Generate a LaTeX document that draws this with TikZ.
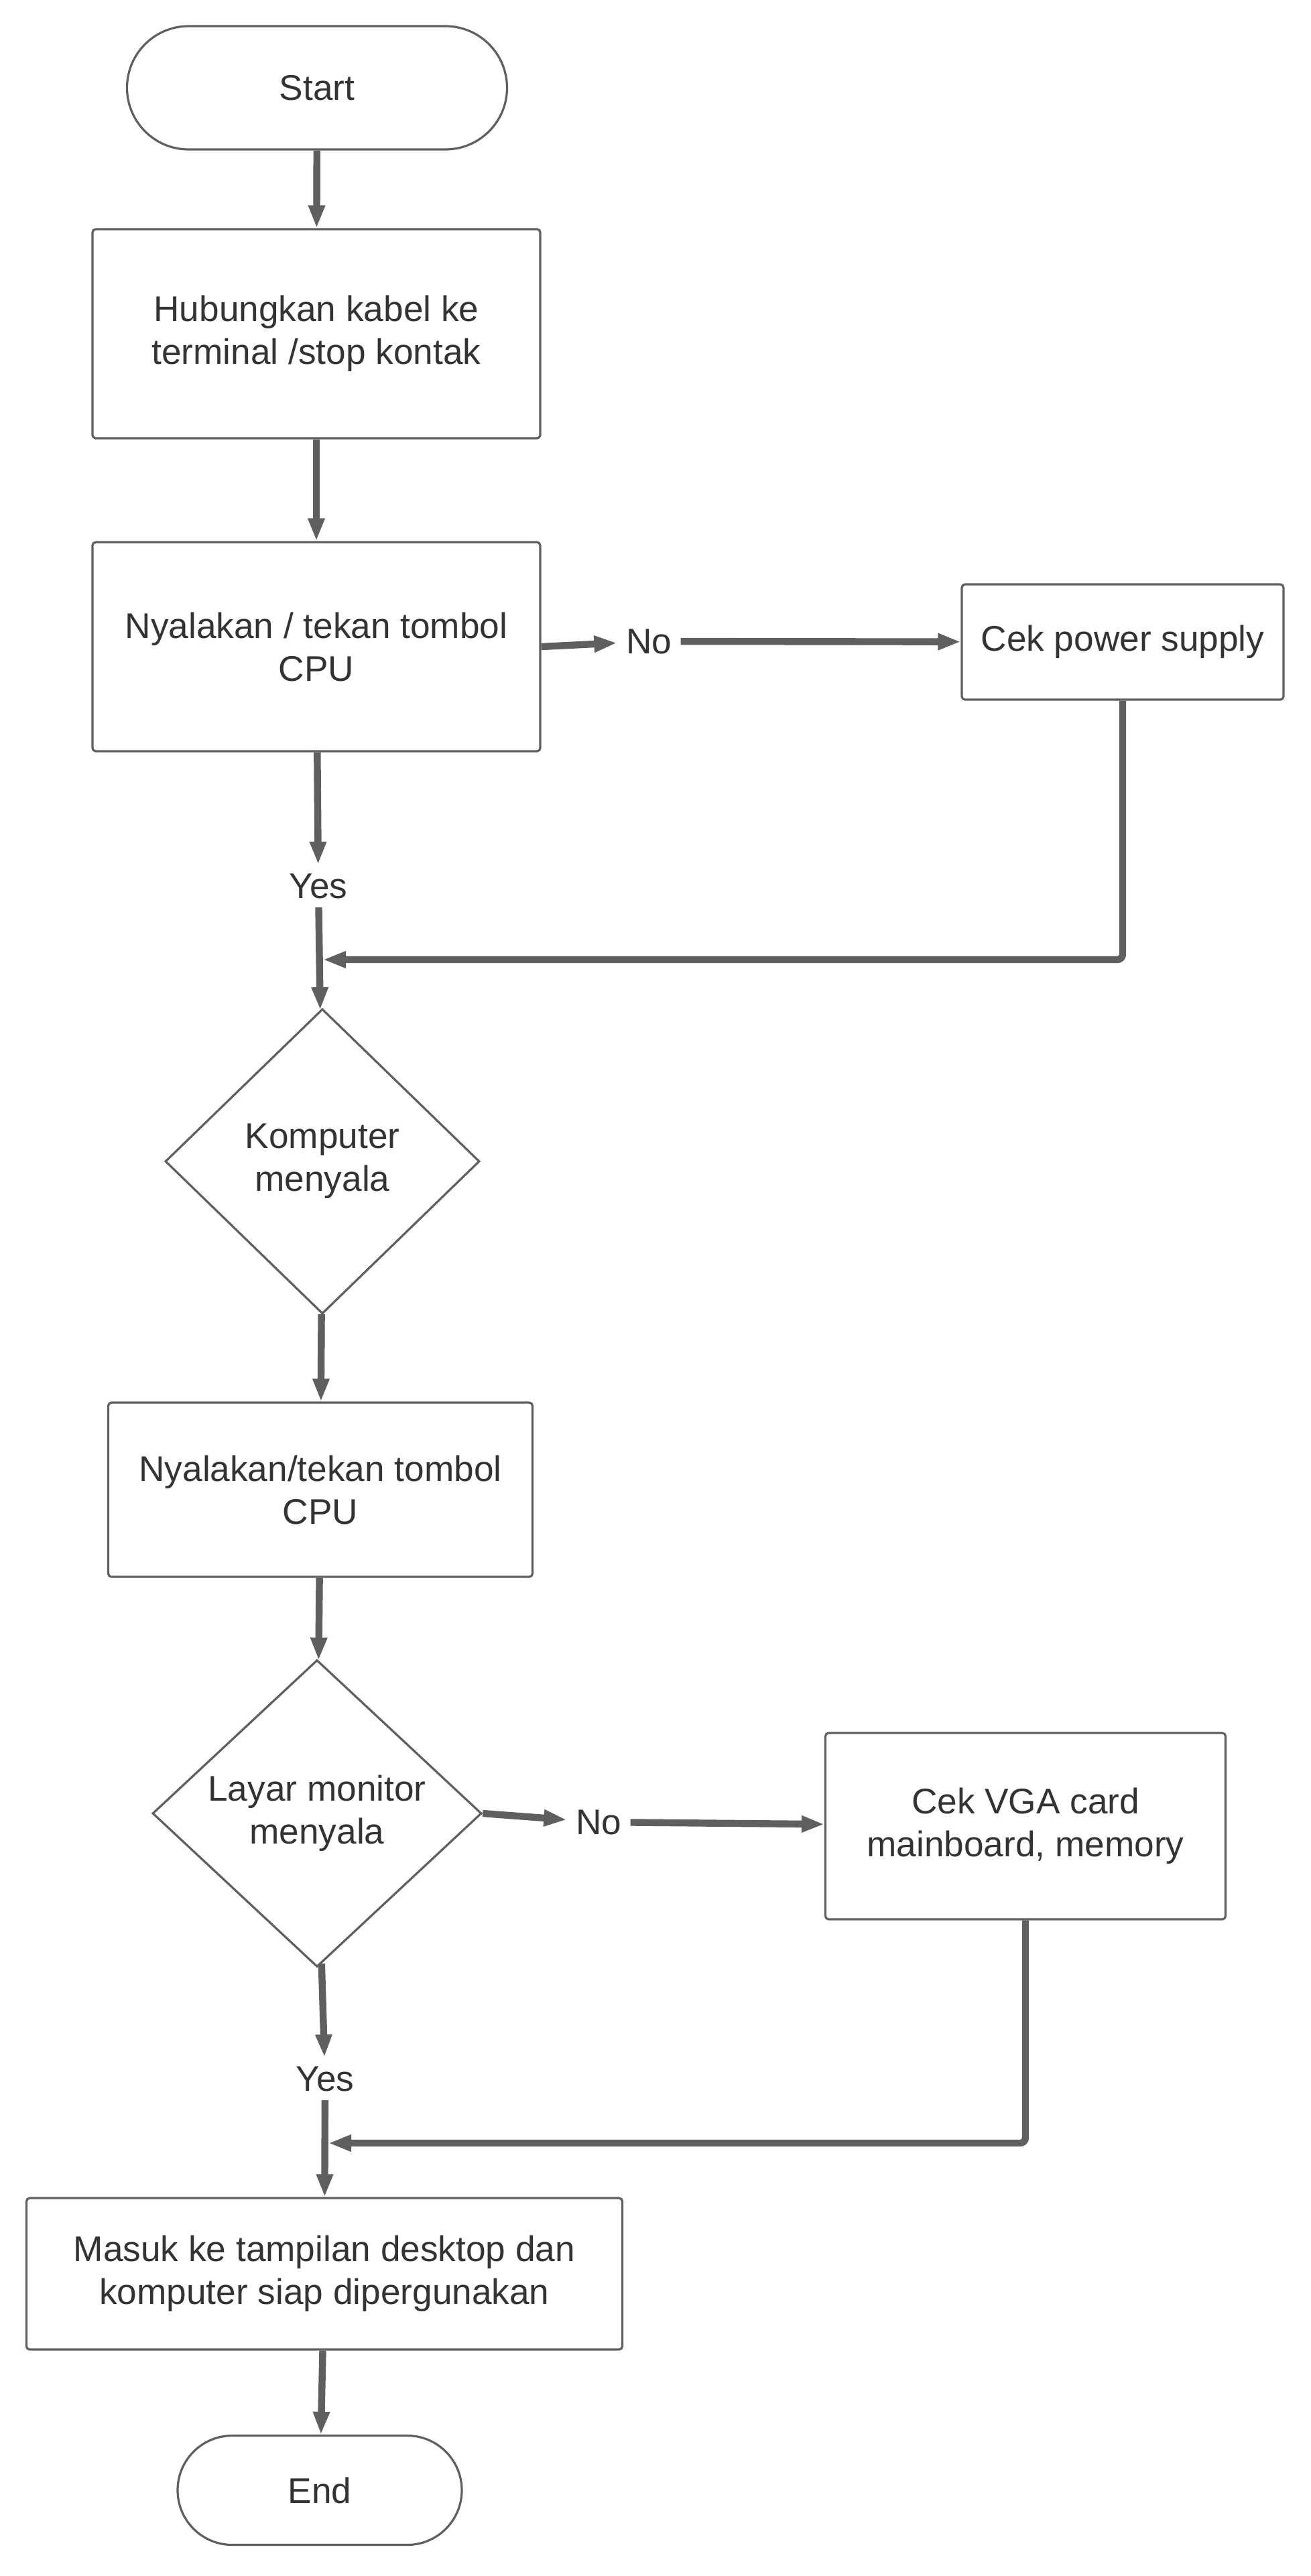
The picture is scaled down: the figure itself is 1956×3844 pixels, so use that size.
\documentclass[tikz,border=0pt]{standalone}
\usepackage{fontspec}
\setmainfont{Liberation Sans}
\usetikzlibrary{shapes.geometric,shapes.misc,arrows.meta}
\definecolor{linegray}{HTML}{5F5F5F}
\definecolor{textgray}{HTML}{333333}
\tikzset{
	base/.style={draw=linegray, line width=0.8pt, inner sep=0pt, align=center,
		text=textgray, font=\fontsize{13.3}{16}\selectfont},
	terminal/.style={base, rounded rectangle},
	process/.style={base, rectangle, rounded corners=1.2pt},
	decision/.style={base, diamond, aspect=1},
	lbl/.style={inner sep=3.2pt, text=textgray, font=\fontsize{13.3}{16}\selectfont},
	flow/.style={draw=linegray, line width=2.6pt, -{Triangle[length=8.5pt,width=5.8pt]}}
}
\begin{document}
\begin{tikzpicture}[x=0.25pt, y=-0.25pt]
	\useasboundingbox (0,0) rectangle (1956,3844);
	% main column
	\node[terminal, minimum width=141.75pt, minimum height=46pt] (start) at (473,131) {Start};
	\node[process, minimum width=167pt, minimum height=78pt] (kabel) at (472,498) {Hubungkan kabel ke\\terminal /stop kontak};
	\node[process, minimum width=167pt, minimum height=78pt] (tombol) at (472,965) {Nyalakan / tekan tombol\\CPU};
	\node[lbl] (no1) at (968,957) {No};
	\node[process, minimum width=120pt, minimum height=43pt] (power) at (1675,958) {Cek power supply};
	\node[lbl] (yes1) at (475,1322) {Yes};
	\node[decision, minimum width=117.25pt, minimum height=113.75pt] (nyala) at (481,1733) {Komputer\\menyala};
	\node[process, minimum width=158.25pt, minimum height=65pt] (tombolb) at (478,2223) {Nyalakan/tekan tombol\\CPU};
	\node[decision, minimum width=122.75pt, minimum height=114.5pt] (layar) at (473,2706) {Layar monitor\\menyala};
	\node[lbl] (no2) at (893,2719) {No};
	\node[process, minimum width=149.25pt, minimum height=69.5pt] (vga) at (1530,2725) {Cek VGA card\\mainboard, memory};
	\node[lbl] (yes2) at (485,3102) {Yes};
	\node[process, minimum width=222.25pt, minimum height=56.5pt] (desktop) at (484,3393) {Masuk ke tampilan desktop dan\\komputer siap dipergunakan};
	\node[terminal, minimum width=106pt, minimum height=40.75pt] (end) at (477,3716) {End};
	% join points
	\coordinate (join1) at (482,1432);
	\coordinate (join2) at (490,3198);
	% arrows
	\draw[flow] (start) -- (kabel);
	\draw[flow] (kabel) -- (tombol);
	\draw[flow] (tombol.east) -- (no1);
	\draw[flow] (no1) -- (power);
	\draw[flow] (tombol) -- (yes1);
	\draw[flow] (yes1) -- (nyala);
	\draw[flow, rounded corners=2pt] (power.south) |- (join1);
	\draw[flow] (nyala) -- (tombolb);
	\draw[flow] (tombolb) -- (layar);
	\draw[flow] (layar.east) -- (no2);
	\draw[flow] (no2) -- (vga);
	\draw[flow] (layar) -- (yes2);
	\draw[flow] (yes2) -- (desktop);
	\draw[flow, rounded corners=2pt] (vga.south) |- (join2);
	\draw[flow] (desktop) -- (end);
\end{tikzpicture}
\end{document}
